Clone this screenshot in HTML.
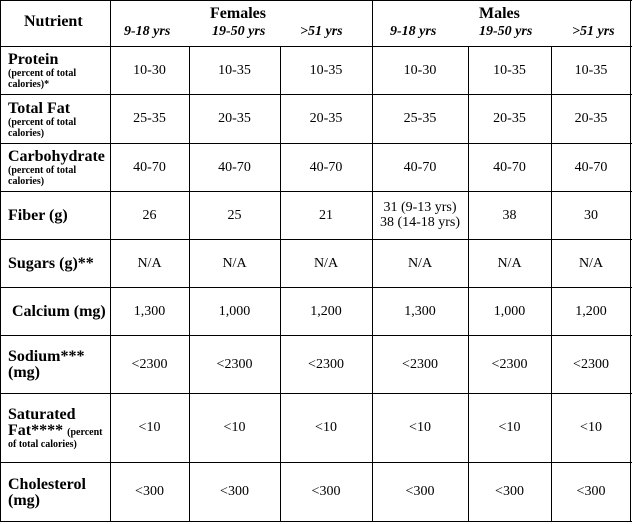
<!DOCTYPE html>
<html><head><meta charset="utf-8"><style>
body{margin:0;background:#fff;width:634px;height:524px;position:relative;overflow:hidden;font-family:"Liberation Serif",serif;color:#000}
.h{position:absolute;height:1px;background:#000}
.v{position:absolute;width:1px;background:#000}
.c{position:absolute;display:flex;align-items:center;justify-content:center;text-align:center;font-size:14px;line-height:15px}
.l{position:absolute;left:8px;display:flex;flex-direction:column;justify-content:center;font-weight:bold;font-size:16px;line-height:16px}
.l small{font-size:10px;line-height:11px}
.hd{position:absolute;font-weight:bold;font-size:16px}
.ag{position:absolute;font-style:italic;font-weight:bold;font-size:14px}
</style></head><body>
<div class="h" style="left:0;width:632px;top:0"></div>
<div class="h" style="left:0;width:632px;top:46px"></div>
<div class="h" style="left:0;width:632px;top:94px"></div>
<div class="h" style="left:0;width:632px;top:143px"></div>
<div class="h" style="left:0;width:632px;top:191px"></div>
<div class="h" style="left:0;width:632px;top:239px"></div>
<div class="h" style="left:0;width:632px;top:287px"></div>
<div class="h" style="left:0;width:632px;top:335px"></div>
<div class="h" style="left:0;width:632px;top:393px"></div>
<div class="h" style="left:0;width:632px;top:462px"></div>
<div class="h" style="left:0;width:632px;top:521px"></div>
<div class="v" style="left:0;top:0;height:522px"></div>
<div class="v" style="left:110px;top:0;height:522px"></div>
<div class="v" style="left:372px;top:0;height:522px"></div>
<div class="v" style="left:630px;top:0;height:522px"></div>
<div class="v" style="left:189px;top:46px;height:476px"></div>
<div class="v" style="left:280px;top:46px;height:476px"></div>
<div class="v" style="left:468px;top:46px;height:476px"></div>
<div class="v" style="left:551px;top:46px;height:476px"></div>

<div class="hd" style="left:24px;top:13px">Nutrient</div>
<div class="hd" style="left:210px;top:5px">Females</div>
<div class="hd" style="left:479px;top:5px">Males</div>
<div class="ag" style="left:124px;top:24px">9-18 yrs</div>
<div class="ag" style="left:212px;top:24px">19-50 yrs</div>
<div class="ag" style="left:300px;top:24px">&gt;51 yrs</div>
<div class="ag" style="left:390px;top:24px">9-18 yrs</div>
<div class="ag" style="left:479px;top:24px">19-50 yrs</div>
<div class="ag" style="left:572px;top:24px">&gt;51 yrs</div>

<div class="l" style="top:48px;height:46px">Protein<small>(percent of total<br>calories)*</small></div>
<div class="l" style="top:96px;height:47px">Total Fat<small>(percent of total<br>calories)</small></div>
<div class="l" style="top:145px;height:46px">Carbohydrate<small>(percent of total<br>calories)</small></div>
<div class="l" style="top:193px;height:46px">Fiber (g)</div>
<div class="l" style="top:241px;height:46px">Sugars (g)**</div>
<div class="l" style="top:289px;height:46px;left:12px">Calcium (mg)</div>
<div class="l" style="top:337px;height:56px">Sodium***<br>(mg)</div>
<div class="l" style="top:395px;height:67px">Saturated<br><span>Fat**** <small>(percent</small></span><small>of total calories)</small></div>
<div class="l" style="top:464px;height:57px">Cholesterol<br>(mg)</div>

<div id="cells"></div>
<script>
const cols=[[110,189],[189,280],[280,372],[372,468],[468,551],[551,631]];
const rows=[[46,94],[94,143],[143,191],[191,239],[239,287],[287,335],[335,393],[393,462],[462,521]];
const d=[
["10-30","10-35","10-35","10-30","10-35","10-35"],
["25-35","20-35","20-35","25-35","20-35","20-35"],
["40-70","40-70","40-70","40-70","40-70","40-70"],
["26","25","21","31 (9-13 yrs)<br>38 (14-18 yrs)","38","30"],
["N/A","N/A","N/A","N/A","N/A","N/A"],
["1,300","1,000","1,200","1,300","1,000","1,200"],
["&lt;2300","&lt;2300","&lt;2300","&lt;2300","&lt;2300","&lt;2300"],
["&lt;10","&lt;10","&lt;10","&lt;10","&lt;10","&lt;10"],
["&lt;300","&lt;300","&lt;300","&lt;300","&lt;300","&lt;300"]];
let h="";
rows.forEach((r,i)=>cols.forEach((c,j)=>{h+=`<div class="c" style="left:${c[0]}px;width:${c[1]-c[0]}px;top:${r[0]}px;height:${r[1]-r[0]}px">${d[i][j]}</div>`;}));
document.getElementById("cells").outerHTML=h;
</script>
</body></html>
